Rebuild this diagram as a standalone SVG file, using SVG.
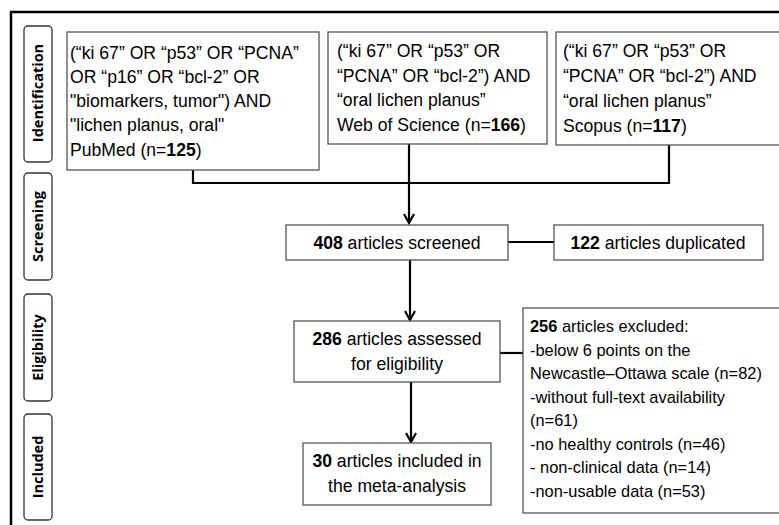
<svg xmlns="http://www.w3.org/2000/svg" width="779" height="525" viewBox="0 0 779 525">
<defs>
<style>
.frame{fill:none;stroke:#000;stroke-width:2.5}
.phase rect{fill:#fff;stroke:#333;stroke-width:1.3}
.phase text{font-family:"Open Sans","DejaVu Sans",sans-serif;font-weight:bold;font-size:14.5px;fill:#000;text-anchor:middle}
.box rect{fill:#fff;stroke:#555;stroke-width:1.3}
.box text{font-family:"Liberation Sans",Arial,sans-serif;font-size:17.6px;fill:#000}
#excluded text{font-size:16.4px}
.c{text-anchor:middle}
.b{font-weight:bold}
.conn{fill:none;stroke:#000;stroke-width:2.2}
</style>
<marker id="arr" viewBox="0 0 12 12" refX="10" refY="6" markerWidth="12" markerHeight="12" markerUnits="userSpaceOnUse" orient="auto">
<path d="M1,1 L10,6 L1,11" fill="none" stroke="#000" stroke-width="2.2"/>
</marker>
</defs>
<rect width="779" height="525" fill="#fff"/>
<rect class="frame" x="11" y="12" width="790" height="540"/>

<g id="phase-identification" class="phase">
<rect x="24" y="26" width="28" height="136" rx="4"/>
<text transform="translate(43,93) rotate(-90)">Identification</text>
</g>
<g id="phase-screening" class="phase">
<rect x="24" y="173" width="28" height="107" rx="4"/>
<text transform="translate(43,226.5) rotate(-90)">Screening</text>
</g>
<g id="phase-eligibility" class="phase">
<rect x="24" y="294" width="28" height="107" rx="4"/>
<text transform="translate(43,347.5) rotate(-90)">Eligibility</text>
</g>
<g id="phase-included" class="phase">
<rect x="24" y="414" width="28" height="106" rx="4"/>
<text transform="translate(43,467) rotate(-90)">Included</text>
</g>

<g id="connectors">
<polyline class="conn" points="193,170 193,183 669,183 669,145"/>
<line class="conn" x1="409" y1="144" x2="409" y2="223" marker-end="url(#arr)"/>
<line class="conn" x1="508" y1="242" x2="554" y2="242"/>
<line class="conn" x1="410" y1="260" x2="410" y2="320" marker-end="url(#arr)"/>
<line class="conn" x1="500" y1="353" x2="523" y2="353"/>
<line class="conn" x1="411" y1="382" x2="411" y2="442" marker-end="url(#arr)"/>
</g>

<g id="pubmed" class="box">
<rect x="67" y="32" width="252" height="138"/>
<text x="70" y="59">(“ki 67” OR “p53” OR “PCNA”</text>
<text x="70" y="83">OR “p16” OR “bcl-2” OR</text>
<text x="70" y="107">"biomarkers, tumor") AND</text>
<text x="70" y="131">"lichen planus, oral"</text>
<text x="70" y="156">PubMed (n=<tspan class="b">125</tspan>)</text>
</g>
<g id="wos" class="box">
<rect x="328" y="32" width="219" height="112"/>
<text x="337" y="57">(“ki 67” OR “p53” OR</text>
<text x="337" y="82">“PCNA” OR “bcl-2”) AND</text>
<text x="337" y="106">“oral lichen planus”</text>
<text x="337" y="131">Web of Science (n=<tspan class="b">166</tspan>)</text>
</g>
<g id="scopus" class="box">
<rect x="556" y="32" width="240" height="113"/>
<text x="563" y="57">(“ki 67” OR “p53” OR</text>
<text x="563" y="82">“PCNA” OR “bcl-2”) AND</text>
<text x="563" y="107">“oral lichen planus”</text>
<text x="563" y="132">Scopus (n=<tspan class="b">117</tspan>)</text>
</g>
<g id="screened" class="box">
<rect x="286" y="225" width="222" height="35"/>
<text class="c" x="397" y="248.5"><tspan class="b">408</tspan> articles screened</text>
</g>
<g id="duplicated" class="box">
<rect x="554" y="225" width="209" height="35"/>
<text class="c" x="658" y="248.5"><tspan class="b">122</tspan> articles duplicated</text>
</g>
<g id="assessed" class="box">
<rect x="294" y="321" width="206" height="61"/>
<text class="c" x="397" y="345"><tspan class="b">286</tspan> articles assessed</text>
<text class="c" x="397" y="370">for eligibility</text>
</g>
<g id="excluded" class="box">
<rect x="523" y="308" width="260" height="205"/>
<text x="530" y="332"><tspan class="b">256</tspan> articles excluded:</text>
<text x="530" y="355.5">-below 6 points on the</text>
<text x="530" y="379">Newcastle–Ottawa scale (n=82)</text>
<text x="530" y="402.5">-without full-text availability</text>
<text x="530" y="426">(n=61)</text>
<text x="530" y="449.5">-no healthy controls (n=46)</text>
<text x="530" y="473">- non-clinical data (n=14)</text>
<text x="530" y="496.5">-non-usable data (n=53)</text>
</g>
<g id="included" class="box">
<rect x="303" y="443" width="188" height="62"/>
<text class="c" x="397" y="467"><tspan class="b">30</tspan> articles included in</text>
<text class="c" x="397" y="492">the meta-analysis</text>
</g>
</svg>
